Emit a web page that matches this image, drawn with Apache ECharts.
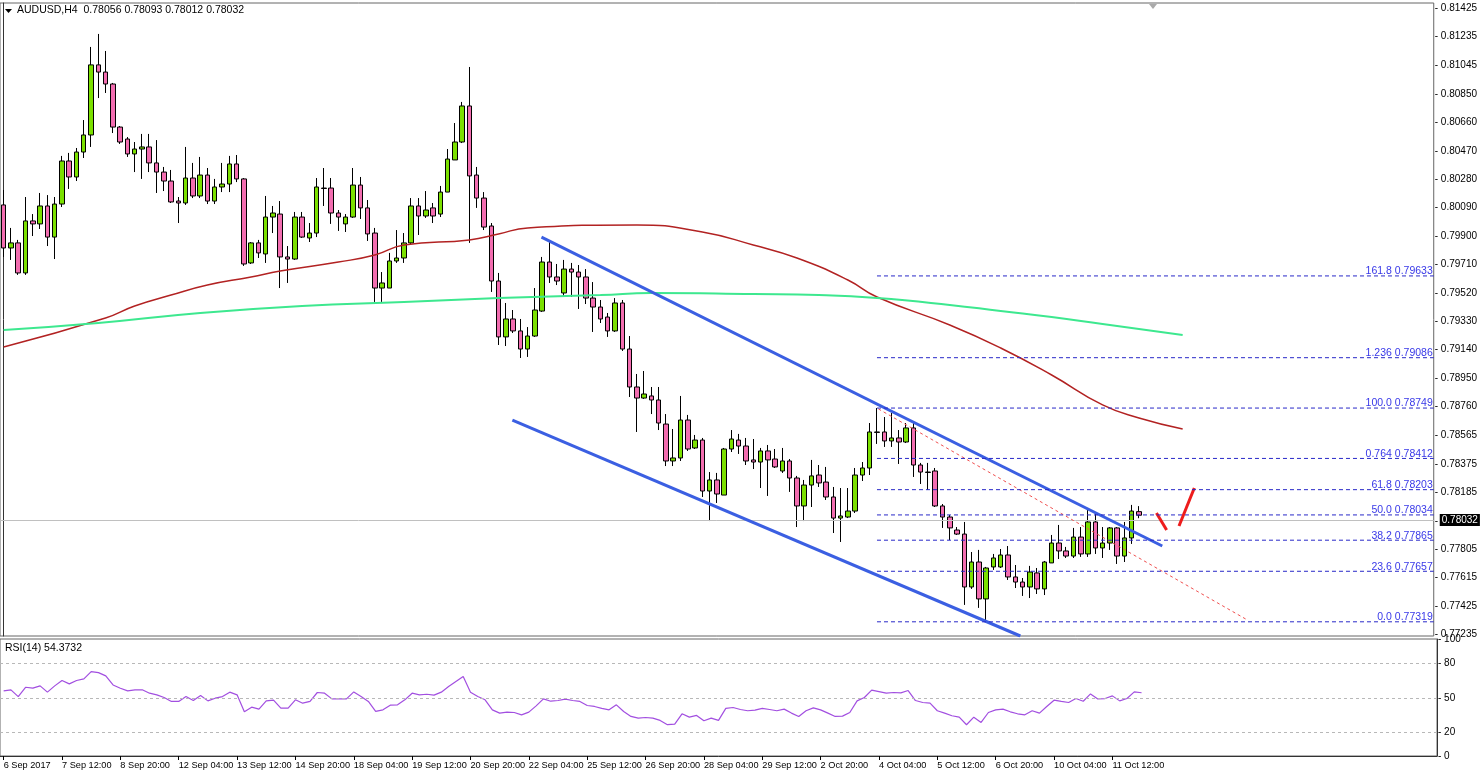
<!DOCTYPE html>
<html><head><meta charset="utf-8">
<script src="https://cdn.jsdelivr.net/npm/echarts@6/dist/echarts.min.js"></script>
<style>html,body{margin:0;padding:0;background:#fff}#c{width:1480px;height:772px}</style>
</head><body><div id="c"></div>
<script>
// OHLC: [open, close, low, high]
const candles = [
[0.80108,0.79820,0.79760,0.80208],[0.79820,0.79854,0.79740,0.79954],[0.79854,0.79653,0.79640,0.79874],[0.79653,0.80001,0.79640,0.80161],
[0.80001,0.79981,0.79900,0.80047],[0.79981,0.80101,0.79947,0.80188],[0.80101,0.79893,0.79833,0.80174],[0.79893,0.80114,0.79746,0.80161],
[0.80114,0.80402,0.80094,0.80436],[0.80402,0.80295,0.80215,0.80456],[0.80295,0.80462,0.80268,0.80489],[0.80462,0.80576,0.80422,0.80676],
[0.80576,0.81045,0.80496,0.81165],[0.81045,0.80997,0.80823,0.81252],[0.80997,0.80917,0.80857,0.81138],[0.80917,0.80629,0.80589,0.80924],
[0.80629,0.80529,0.80516,0.80636],[0.80549,0.80449,0.80429,0.80562],[0.80449,0.80482,0.80328,0.80529],[0.80482,0.80496,0.80282,0.80583],
[0.80496,0.80389,0.80328,0.80583],[0.80389,0.80328,0.80188,0.80542],[0.80328,0.80268,0.80201,0.80362],[0.80268,0.80128,0.80121,0.80342],
[0.80134,0.80121,0.79987,0.80161],[0.80121,0.80288,0.80108,0.80496],[0.80288,0.80168,0.80154,0.80389],[0.80168,0.80308,0.80154,0.80429],
[0.80308,0.80134,0.80114,0.80355],[0.80134,0.80228,0.80114,0.80282],[0.80228,0.80248,0.80194,0.80389],[0.80248,0.80382,0.80194,0.80436],
[0.80382,0.80282,0.80261,0.80442],[0.80282,0.79713,0.79700,0.80288],[0.79720,0.79854,0.79713,0.79860],[0.79854,0.79787,0.79753,0.79874],
[0.79780,0.80027,0.79720,0.80168],[0.80027,0.80054,0.79920,0.80101],[0.80047,0.79760,0.79552,0.80134],[0.79760,0.79746,0.79586,0.79833],
[0.79746,0.80027,0.79740,0.80061],[0.80027,0.79893,0.79887,0.80061],[0.79887,0.79920,0.79860,0.79987],[0.79920,0.80228,0.79893,0.80288],
[0.80221,0.80218,0.80101,0.80355],[0.80221,0.80054,0.79981,0.80288],[0.80054,0.80027,0.79934,0.80074],[0.79981,0.80027,0.79927,0.80047],
[0.80027,0.80241,0.80021,0.80355],[0.80241,0.80088,0.80014,0.80295],[0.80088,0.79914,0.79867,0.80141],[0.79920,0.79552,0.79459,0.79954],
[0.79552,0.79586,0.79459,0.79659],[0.79552,0.79733,0.79552,0.79787],[0.79733,0.79753,0.79720,0.79940],[0.79753,0.79854,0.79720,0.79920],
[0.79854,0.80101,0.79847,0.80154],[0.80101,0.80034,0.79907,0.80154],[0.80034,0.80074,0.80021,0.80201],[0.80088,0.80034,0.79987,0.80121],
[0.80047,0.80194,0.80027,0.80235],[0.80194,0.80415,0.80194,0.80482],[0.80409,0.80529,0.80409,0.80656],[0.80529,0.80770,0.80522,0.80797],
[0.80770,0.80302,0.79854,0.81031],[0.80308,0.80154,0.80088,0.80362],[0.80154,0.79960,0.79940,0.80194],[0.79967,0.79599,0.79526,0.79987],
[0.79599,0.79225,0.79171,0.79653],[0.79225,0.79345,0.79164,0.79452],[0.79345,0.79265,0.79251,0.79405],[0.79265,0.79144,0.79084,0.79345],
[0.79144,0.79231,0.79091,0.79291],[0.79231,0.79405,0.79225,0.79552],[0.79398,0.79726,0.79392,0.79760],[0.79726,0.79626,0.79586,0.79860],
[0.79626,0.79599,0.79572,0.79713],[0.79519,0.79679,0.79499,0.79740],[0.79679,0.79659,0.79492,0.79720],[0.79659,0.79626,0.79412,0.79706],
[0.79626,0.79485,0.79445,0.79679],[0.79485,0.79425,0.79258,0.79592],[0.79425,0.79345,0.79318,0.79472],[0.79358,0.79265,0.79225,0.79385],
[0.79265,0.79452,0.79258,0.79485],[0.79452,0.79144,0.79131,0.79472],[0.79144,0.78890,0.78823,0.79231],[0.78890,0.78816,0.78589,0.78977],
[0.78816,0.78843,0.78810,0.78997],[0.78830,0.78803,0.78709,0.78890],[0.78803,0.78649,0.78602,0.78890],[0.78642,0.78395,0.78361,0.78709],
[0.78395,0.78415,0.78361,0.78609],[0.78415,0.78669,0.78395,0.78830],[0.78669,0.78475,0.78462,0.78703],[0.78482,0.78535,0.78475,0.78569],
[0.78535,0.78194,0.78154,0.78549],[0.78194,0.78268,0.77993,0.78321],[0.78268,0.78174,0.78114,0.78315],[0.78167,0.78475,0.78167,0.78482],
[0.78475,0.78542,0.78455,0.78602],[0.78535,0.78495,0.78442,0.78576],[0.78495,0.78395,0.78368,0.78549],[0.78402,0.78388,0.78341,0.78542],
[0.78388,0.78462,0.78214,0.78482],[0.78462,0.78402,0.78161,0.78502],[0.78408,0.78355,0.78348,0.78475],[0.78328,0.78395,0.78315,0.78482],
[0.78395,0.78281,0.78188,0.78408],[0.78281,0.78094,0.77953,0.78295],[0.78094,0.78234,0.77993,0.78268],[0.78234,0.78295,0.78087,0.78402],
[0.78301,0.78248,0.78221,0.78368],[0.78254,0.78154,0.78134,0.78355],[0.78154,0.78013,0.77913,0.78221],[0.78013,0.78027,0.77853,0.78214],
[0.78020,0.78060,0.78013,0.78214],[0.78060,0.78301,0.78047,0.78348],[0.78301,0.78348,0.78261,0.78388],[0.78348,0.78589,0.78301,0.78649],
[0.78589,0.78586,0.78509,0.78749],[0.78589,0.78529,0.78489,0.78689],[0.78529,0.78549,0.78489,0.78716],[0.78549,0.78522,0.78375,0.78602],
[0.78522,0.78616,0.78515,0.78649],[0.78616,0.78368,0.78288,0.78649],[0.78368,0.78321,0.78241,0.78382],[0.78321,0.78318,0.78201,0.78382],
[0.78328,0.78094,0.78087,0.78348],[0.78094,0.78020,0.77947,0.78107],[0.78020,0.77947,0.77866,0.78034],[0.77933,0.77906,0.77900,0.77953],
[0.77906,0.77552,0.77432,0.77987],[0.77552,0.77719,0.77539,0.77786],[0.77719,0.77472,0.77412,0.77800],[0.77472,0.77679,0.77318,0.77686],
[0.77686,0.77746,0.77666,0.77773],[0.77686,0.77766,0.77679,0.77806],[0.77766,0.77619,0.77599,0.77826],[0.77619,0.77585,0.77545,0.77699],
[0.77585,0.77552,0.77492,0.77612],[0.77552,0.77652,0.77478,0.77693],[0.77646,0.77539,0.77505,0.77679],[0.77539,0.77719,0.77498,0.77726],
[0.77713,0.77846,0.77713,0.77900],[0.77846,0.77793,0.77739,0.77967],[0.77793,0.77759,0.77746,0.77820],[0.77759,0.77886,0.77746,0.77947],
[0.77886,0.77773,0.77753,0.77953],[0.77773,0.77987,0.77753,0.78080],[0.77987,0.77813,0.77773,0.78047],[0.77813,0.77846,0.77746,0.77953],
[0.77846,0.77947,0.77800,0.77953],[0.77947,0.77759,0.77706,0.77953],[0.77759,0.77880,0.77719,0.77987],[0.77880,0.78060,0.77840,0.78101],
[0.78056,0.78032,0.78012,0.78093]
];
const rsi = [56.0,56.9,51.1,59.1,58.3,60.3,54.9,60.3,64.9,62.0,64.9,66.3,72.6,71.7,68.9,61.1,58.3,56.0,56.9,56.9,54.0,52.6,50.3,46.9,46.9,51.1,47.7,52.0,47.4,49.7,51.1,54.9,52.6,38.0,42.0,40.3,47.4,48.0,41.1,41.1,48.3,45.4,46.9,54.6,54.0,
49.1,49.1,49.1,55.1,51.1,46.9,38.3,39.7,43.7,44.0,48.3,54.0,52.6,53.1,52.3,54.9,59.7,64.0,68.3,54.9,51.1,48.3,39.7,
36.9,37.7,37.4,35.4,37.7,43.1,49.1,47.1,47.7,48.9,47.7,46.9,43.4,42.6,40.9,39.7,44.0,38.3,34.0,32.6,33.1,32.6,30.6,26.9,27.4,36.3,33.4,34.9,30.3,32.6,30.6,40.9,41.7,40.0,38.9,39.4,40.9,40.0,38.9,40.3,36.9,34.0,38.9,41.4,39.7,36.9,34.0,34.3,37.4,47.4,50.3,56.6,55.4,54.0,54.6,54.3,56.3,47.7,46.0,45.4,38.9,36.9,34.6,33.4,26.9,33.4,28.9,37.4,39.7,
40.3,38.0,36.3,35.4,38.9,36.9,42.6,48.0,46.9,46.0,49.4,47.1,53.4,49.1,49.4,51.7,47.4,49.4,55.1,54.37];
// moving averages: [bar index, value]
const maRed = [[0,0.79158],[14,0.79352],[18,0.79432],[23,0.79505],[28,0.79572],[34,0.79626],[38,0.79666],[46,0.79726],[51,0.79773],[55,0.79840],[64,0.79874],[68,0.79914],[72,0.79954],[87,0.79974],[96,0.79927],[103,0.79840],[109,0.79753],[116,0.79606],[120,0.79492],[130,0.79305],[137,0.79151],[144,0.78970],[151,0.78770],[156,0.78683],[162,0.78609]];
const maGreen = [[0,0.79271],[13,0.79318],[27,0.79385],[41,0.79432],[55,0.79459],[68,0.79485],[82,0.79505],[89,0.79519],[103,0.79512],[112,0.79505],[120,0.79485],[130,0.79439],[137,0.79398],[144,0.79358],[151,0.79311],[162,0.79238]];
const channelUpper = [[73.9,0.79893],[159.2,0.77826]];
const channelLower = [[69.9,0.78669],[139.7,0.77224]];
const redDashed = [[120.2,0.78743],[170.9,0.77331]];
const arrow1 = [[158.4,0.78047],[159.8,0.77933]];
const arrow2 = [[161.5,0.77960],[163.6,0.78214]];
const fibStart = 120;
const fibLevels = [["161.8",0.79633],["1.236",0.79086],["100.0",0.78749],["0.764",0.78412],["61.8",0.78203],["50.0",0.78034],["38.2",0.77865],["23.6",0.77657],["0.0",0.77319]];
const priceTicks = [0.81425,0.81235,0.81045,0.80850,0.80660,0.80470,0.80280,0.80090,0.79900,0.79710,0.79520,0.79330,0.79140,0.78950,0.78760,0.78565,0.78375,0.78185,0.77995,0.77805,0.77615,0.77425,0.77235];
const rsiTicks = [0,20,50,80,100];
const timeLabels = ["6 Sep 2017","7 Sep 12:00","8 Sep 20:00","12 Sep 04:00","13 Sep 12:00","14 Sep 20:00","18 Sep 04:00","19 Sep 12:00","20 Sep 20:00","22 Sep 04:00","25 Sep 12:00","26 Sep 20:00","28 Sep 04:00","29 Sep 12:00","2 Oct 20:00","4 Oct 04:00","5 Oct 12:00","6 Oct 20:00","10 Oct 04:00","11 Oct 12:00"];
const lastClose = 0.78032;
const header = "AUDUSD,H4  0.78056 0.78093 0.78012 0.78032";
const rsiTitle = "RSI(14) 54.3732";

const NSLOT = 197, STEP = 8;
const cats = Array.from({length:NSLOT},(_,i)=>i);
const FONT = 'Liberation Sans';
const showTick = (i)=> i%STEP===0 && i/STEP < timeLabels.length;

const lineSer = (data,color,width,type,extra)=>Object.assign({type:'line',xAxisIndex:2,yAxisIndex:0,data,symbol:'none',silent:true,
  lineStyle:{color,width,type:type||'solid'},z:5,animation:false},extra||{});

const series = [
 {type:'candlestick',xAxisIndex:0,yAxisIndex:0,data:candles,barWidth:5,
  itemStyle:{color:'#7be000',color0:'#f26db0',borderColor:'#000',borderColor0:'#000',borderWidth:1},
  markLine:{silent:true,symbol:'none',data:[{yAxis:lastClose}],lineStyle:{color:'#c0c0c0',type:'solid',width:1},
   label:{position:'end',formatter:'0.78032',backgroundColor:'#000',color:'#fff',fontSize:10,fontFamily:FONT,padding:[1,2],distance:6}},z:3},
 lineSer(maRed,'#b22222',1.5,null,{smooth:true}),
 lineSer(maGreen,'#3de88f',2,null,{smooth:true}),
 lineSer(channelUpper,'#3b5fe2',3),
 lineSer(channelLower,'#3b5fe2',3),
 lineSer(redDashed,'#f05050',1,[3,3]),
 lineSer(arrow1,'#ee1c1c',3),
 lineSer(arrow2,'#ee1c1c',3),
 {type:'line',xAxisIndex:1,yAxisIndex:1,data:rsi,symbol:'none',lineStyle:{color:'#a24fe0',width:1.2},silent:true,animation:false,
  markLine:{silent:true,symbol:'none',label:{show:false},lineStyle:{color:'#b8b8b8',type:[3,3],width:1},data:[{yAxis:20},{yAxis:50},{yAxis:80}]}}
];
fibLevels.forEach(([name,v])=>{
  series.push(lineSer([[fibStart,v],{value:[196.5,v],symbol:'circle',symbolSize:0.1,
    label:{show:true,position:'top',align:'right',distance:0,offset:[-1,1],formatter:name+' '+v.toFixed(5),color:'#3838e8',fontSize:10.5,fontFamily:FONT}}],
    '#2828c8',1,[4,3],{showSymbol:true}));
});

const chart = echarts.init(document.getElementById('c'),null,{renderer:'canvas'});
chart.setOption({
 animation:false,
 backgroundColor:'#fff',
 textStyle:{fontFamily:FONT},
 grid:[
  {left:0,top:3,width:1437,height:633,show:true,borderColor:'#666',borderWidth:1},
  {left:0,top:639,width:1437,height:117,show:true,borderColor:'#666',borderWidth:1}
 ],
 xAxis:[
  {type:'category',gridIndex:0,data:cats,boundaryGap:true,axisLine:{show:false},axisTick:{show:false},axisLabel:{show:false},splitLine:{show:false}},
  {type:'category',gridIndex:1,data:cats,boundaryGap:true,axisLine:{show:true,lineStyle:{color:'#333'}},
   axisTick:{show:true,alignWithLabel:true,interval:(i)=>showTick(i),length:4,lineStyle:{color:'#000'}},
   axisLabel:{interval:(i)=>showTick(i),formatter:(v,i)=>timeLabels[i/STEP],align:'left',margin:5,fontSize:9.2,color:'#000',fontFamily:FONT},splitLine:{show:false}},
  {type:'value',gridIndex:0,min:-0.5,max:196.5,show:false}
 ],
 yAxis:[
  {type:'value',gridIndex:0,position:'right',min:0.77224,max:0.81459,scale:true,
   axisLine:{show:true,lineStyle:{color:'#333'}},axisTick:{show:false},
   axisLabel:{customValues:priceTicks,formatter:(v)=>'- '+v.toFixed(5),fontSize:10,color:'#000',margin:1,fontFamily:FONT},splitLine:{show:false}},
  {type:'value',gridIndex:1,position:'right',min:0,max:100.6,
   axisLine:{show:true,lineStyle:{color:'#333'}},axisTick:{show:false},
   axisLabel:{customValues:rsiTicks,formatter:(v)=>'- '+v,fontSize:10,color:'#000',margin:1,fontFamily:FONT},splitLine:{show:false}}
 ],
 graphic:[
  {type:'polygon',shape:{points:[[5,9],[12,9],[8.5,13]]},style:{fill:'#000'}},
  {type:'text',left:17,top:5,style:{text:header,fontSize:10.5,fontFamily:FONT,fill:'#000'}},
  {type:'text',left:5,top:643,style:{text:rsiTitle,fontSize:10.5,fontFamily:FONT,fill:'#000'}},
  {type:'polygon',shape:{points:[[1149,4],[1157,4],[1153,9]]},style:{fill:'#aaa'}}
 ],
 series
});
</script></body></html>
